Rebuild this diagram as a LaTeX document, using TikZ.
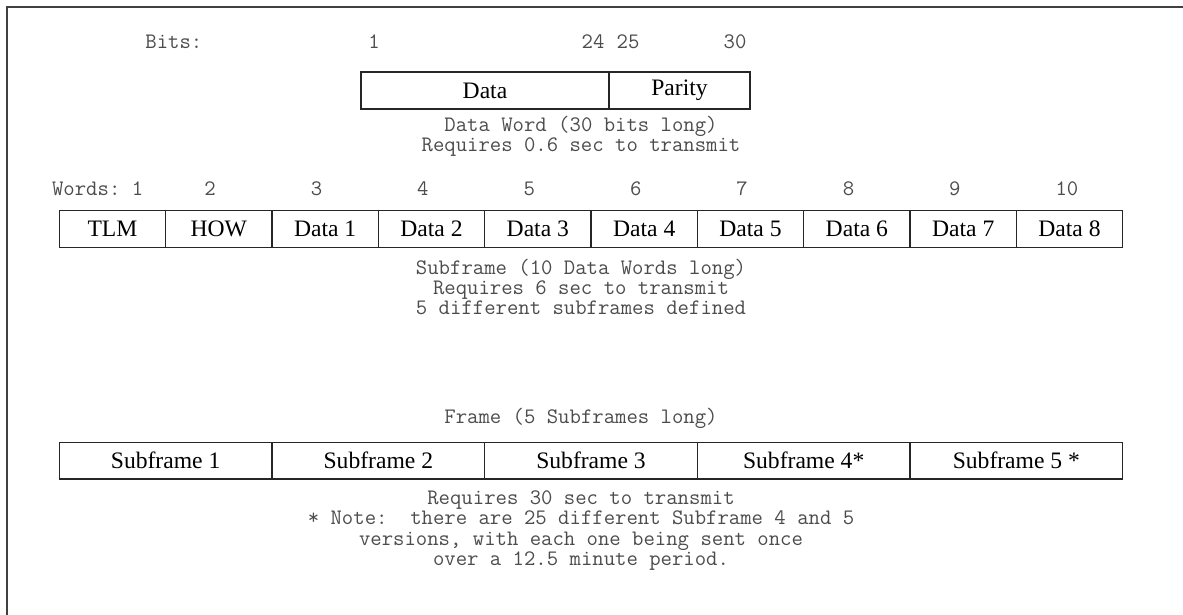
\documentclass[tikz,border=0pt]{standalone}
\usepackage{fontspec}
\setmainfont{Liberation Serif}
\usepackage{tikz}

\begin{document}
\begin{tikzpicture}[x=0.5pt,y=-0.5pt,
	mono/.style={font=\fontsize{11.05}{12}\ttfamily\frenchspacing, text=black!70, inner sep=0, anchor=base},
	cell/.style={draw=black!85, line width=0.75pt, font=\fontsize{11.8}{13}\selectfont, inner sep=0, minimum height=18.4pt}]
	\useasboundingbox (0,0) rectangle (1183,615);
	% Page Frame %
	\draw [black!75, line width=1pt] (7,615) -- (7,7.5) -- (1183,7.5);
	% Data Word %
	\node [mono, anchor=base west] (bitslabel) at (145,49) {Bits:};
	\node [mono] (bit1) at (374,49) {1};
	\node [mono] (bit24) at (593,49) {24};
	\node [mono] (bit25) at (628,49) {25};
	\node [mono] (bit30) at (735,49) {30};
	\node [cell, minimum width=124pt] (data) at (485,90.5) {Data};
	\node [cell, minimum width=70.5pt] (parity) at (679.5,90.5) {Parity};
	\node [mono] (wordcap1) at (581,132) {Data Word (30 bits long)};
	\node [mono] (wordcap2) at (581,152) {Requires 0.6 sec to transmit};
	% Subframe %
	\node [mono, anchor=base west] (wordslabel) at (51.7,195) {Words: 1};
	\foreach \n in {2,...,10}
		\node [mono, anchor=base west] (wnum\n) at ({204+106.4*(\n-2)},195) {\n};
	\foreach \w [count=\i] in {TLM,HOW,Data 1,Data 2,Data 3,Data 4,Data 5,Data 6,Data 7,Data 8}
		\node [cell, minimum width=53.17pt] (word\i) at ({59.3+106.34*(\i-0.5)},229) {\w};
	\node [mono] (subcap1) at (581,274) {Subframe (10 Data Words long)};
	\node [mono] (subcap2) at (581,294) {Requires 6 sec to transmit};
	\node [mono] (subcap3) at (581,314) {5 different subframes defined};
	% Frame %
	\node [mono] (framecap) at (581,423) {Frame (5 Subframes long)};
	\foreach \s [count=\i] in {Subframe 1,Subframe 2,Subframe 3,Subframe 4*,Subframe 5 *}
		\node [cell, minimum width=106.34pt] (sub\i) at ({59.3+212.68*(\i-0.5)},460.7) {\s};
	\node [mono] (framenote1) at (581,504) {Requires 30 sec to transmit};
	\node [mono] (framenote2) at (581,524.5) {* Note:\ \ there are 25 different Subframe 4 and 5};
	\node [mono] (framenote3) at (581,545) {versions, with each one being sent once};
	\node [mono] (framenote4) at (581,565) {over a 12.5 minute period.};
\end{tikzpicture}
\end{document}
